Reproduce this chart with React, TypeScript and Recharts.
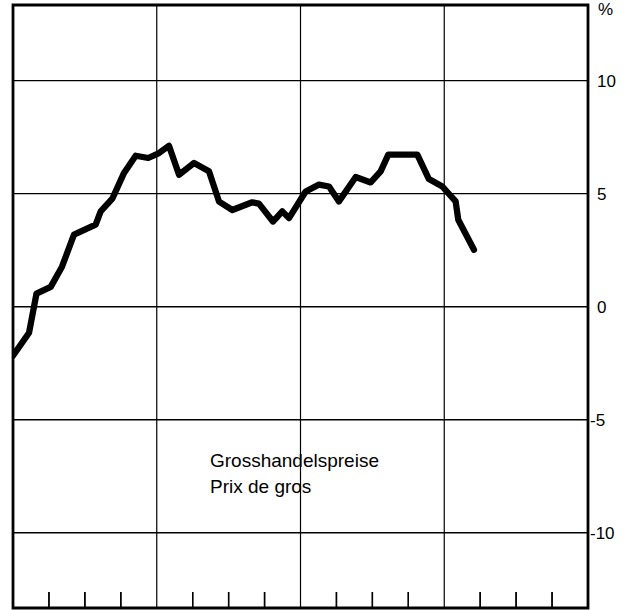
import React from 'react';
import { LineChart, Line, XAxis, YAxis, CartesianGrid, ReferenceLine, ReferenceArea } from 'recharts';

// months since start of first year (x), % change (y)
const months = [0, 1.34, 1.96, 3.15, 4.09, 5.09, 6.9, 7.32, 8.29, 9.27, 10.24, 11.29, 12.19, 13.02, 13.86, 15.11, 16.36, 17.2, 18.31, 19.97, 20.53, 21.7, 22.48, 23.04, 24.43, 25.54, 26.38, 27.21, 28.61, 29.86, 30.69, 31.33, 33.75, 34.72, 35.84, 36.95, 37.17, 38.48];
const values = [-2.17, -1.15, 0.58, 0.88, 1.77, 3.19, 3.63, 4.22, 4.78, 5.92, 6.68, 6.58, 6.8, 7.12, 5.84, 6.36, 5.99, 4.65, 4.28, 4.62, 4.56, 3.77, 4.22, 3.92, 5.1, 5.4, 5.32, 4.66, 5.74, 5.5, 5.99, 6.73, 6.73, 5.65, 5.32, 4.66, 3.85, 2.52];

const quarterTicks = [3, 6, 9, 15, 18, 21, 27, 30, 33, 39, 42, 45];
const yearLines = [12, 24, 36];
const yTicks = [-10, -5, 0, 5, 10];
const xDomain = [0, 48];
const yDomain = [-13.33, 13.35];

const data = months.map((m, i) => ({ m, v: values[i] }));

const FONT = '"Liberation Sans", Arial, Helvetica, sans-serif';

const RightTick = (props: any) => {
  const { x, y, payload } = props;
  const val = payload.value as number;
  return (
    <text
      x={val < 0 ? x - 6 : x + 1}
      y={y}
      dy={6}
      fontSize={17}
      fontFamily={FONT}
      fill="#000"
      textAnchor="start"
    >
      {String(val)}
    </text>
  );
};

// bottom tick marks pointing upward into the plot (axis is mirrored)
const QuarterTick = (props: any) => {
  const { x, y } = props;
  // for a mirrored bottom axis, y = tick-line top - tickMargin
  return <line x1={x} x2={x} y1={y + 2} y2={y + 18} stroke="#000" strokeWidth={1.4} />;
};

export default function App() {
  return (
    <div style={{ position: 'absolute', left: 0, top: 0, width: 635, height: 610, background: '#fff' }}>
      <LineChart width={635} height={610} data={data} margin={{ top: 5, right: 0, bottom: 2, left: 13 }}>
        <CartesianGrid vertical={false} stroke="#000" strokeWidth={1.3} strokeDasharray="" />
        <XAxis
          type="number"
          dataKey="m"
          domain={xDomain}
          ticks={quarterTicks}
          interval={0}
          allowDataOverflow
          mirror
          tickSize={16}
          tickMargin={2}
          tick={<QuarterTick />}
          axisLine={false}
          tickLine={{ stroke: '#000', strokeWidth: 1.4 }}
        />
        <YAxis
          orientation="right"
          type="number"
          domain={yDomain}
          ticks={yTicks}
          interval={0}
          allowDataOverflow
          width={47}
          axisLine={false}
          tickLine={false}
          tick={<RightTick />}
        />
        {yearLines.map((x) => (
          <ReferenceLine key={x} x={x} stroke="#000" strokeWidth={1.2} />
        ))}
        <ReferenceArea
          x1={xDomain[0]}
          x2={xDomain[1]}
          y1={yDomain[0]}
          y2={yDomain[1]}
          fill="none"
          fillOpacity={0}
          stroke="#000"
          strokeWidth={2.8}
          ifOverflow="visible"
        />
        <Line
          type="linear"
          dataKey="v"
          stroke="#000"
          strokeWidth={6.3}
          strokeLinejoin="round"
          strokeLinecap="round"
          dot={false}
          activeDot={false}
          isAnimationActive={false}
        />
      </LineChart>
      <div
        style={{
          position: 'absolute',
          left: 598,
          top: 1,
          fontFamily: FONT,
          fontSize: 17,
          lineHeight: '17px',
          color: '#000',
        }}
      >
        %
      </div>
      <div
        style={{
          position: 'absolute',
          left: 210,
          top: 448,
          fontFamily: FONT,
          fontSize: 19,
          lineHeight: '26px',
          color: '#000',
          whiteSpace: 'nowrap',
        }}
      >
        <div>Grosshandelspreise</div>
        <div>Prix de gros</div>
      </div>
    </div>
  );
}
